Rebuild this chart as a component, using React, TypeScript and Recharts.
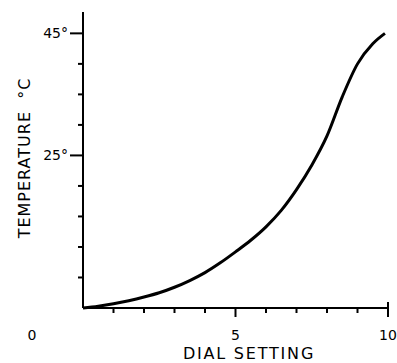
import { Line, LineChart, XAxis, YAxis } from "recharts";

const dialSetting = [0, 0.5, 1, 1.5, 2, 2.5, 3, 3.5, 4, 4.5, 5, 5.5, 6, 6.5, 7, 7.5, 8, 8.5, 9, 9.5, 9.9];
const temperature = [0, 0.3, 0.7, 1.2, 1.8, 2.5, 3.4, 4.5, 5.8, 7.4, 9.2, 11.1, 13.3, 16.0, 19.4, 23.4, 28.2, 34.6, 40.0, 43.3, 45];

const xTicks = [0, 1, 2, 3, 4, 5, 6, 7, 8, 9, 10];
const xTickLabels: Record<number, string> = { 0: "0", 5: "5", 10: "10" };
const yTicks = [0, 5, 10, 15, 20, 25, 30, 35, 40, 45];
const yTickLabels: Record<number, string> = { 25: "25°", 45: "45°" };

const data = dialSetting.map((d, i) => ({ dial: d, temp: temperature[i] }));

const font = "'DejaVu Sans', sans-serif";

// tickSize 0 -> y is the axis line itself
function XTick(props: any) {
  const { x, y, payload } = props;
  const v = payload.value;
  const major = v === 5 || v === 10;
  const label = xTickLabels[v];
  let lx = x;
  if (v === 0) lx = x - 51;
  return (
    <g>
      {v > 0 && (
        <path d={`M${x},${v === 10 ? y - 6 : y}V${y + (major ? 9 : 5)}`} stroke="#000" strokeWidth={2} fill="none" />
      )}
      {label && (
        <text x={lx} y={y + 32} textAnchor="middle" fontFamily={font} fontSize={14} fill="#000">
          {label}
        </text>
      )}
    </g>
  );
}

// x is the axis line itself
function YTick(props: any) {
  const { x, y, payload } = props;
  const v = payload.value;
  const label = yTickLabels[v];
  if (v === 0) return <g />;
  return (
    <g>
      <path d={`M${x - (label ? 13 : 5)},${y}H${x}`} stroke="#000" strokeWidth={2} fill="none" />
      {label && (
        <text x={x - 15} y={y + 5} textAnchor="end" fontFamily={font} fontSize={14} fill="#000">
          {label}
        </text>
      )}
    </g>
  );
}

export default function App() {
  return (
    <div style={{ position: "absolute", left: 0, top: 0, width: 397, height: 363, overflow: "hidden", background: "#fff" }}>
      <LineChart width={420} height={363} data={data} margin={{ top: 12, right: 32, bottom: 0, left: 0 }}>
        <XAxis
          dataKey="dial"
          type="number"
          domain={[0, 10]}
          ticks={xTicks}
          tick={<XTick />}
          tickLine={false}
          tickSize={0}
          tickMargin={0}
          height={55}
          axisLine={{ stroke: "#000", strokeWidth: 2 }}
          interval={0}
          label={{
            content: () => (
              <text x={249} y={359} textAnchor="middle" fontFamily={font} fontSize={16} letterSpacing={1.8} fill="#000">
                DIAL SETTING
              </text>
            ),
          }}
        />
        <YAxis
          type="number"
          domain={[0, 48.5]}
          ticks={yTicks}
          tick={<YTick />}
          tickLine={false}
          tickSize={0}
          tickMargin={0}
          width={83}
          axisLine={{ stroke: "#000", strokeWidth: 2 }}
          interval={0}
          label={{
            content: () => (
              <text
                x={30}
                y={158}
                transform="rotate(-90 30 158)"
                textAnchor="middle"
                fontFamily={font}
                fontSize={16}
                letterSpacing={1}
                fill="#000"
              >
                TEMPERATURE{"\u00a0\u00a0"}°C
              </text>
            ),
          }}
        />
        <Line
          type="monotone"
          dataKey="temp"
          stroke="#000"
          strokeWidth={3}
          dot={false}
          isAnimationActive={false}
        />
      </LineChart>
    </div>
  );
}
